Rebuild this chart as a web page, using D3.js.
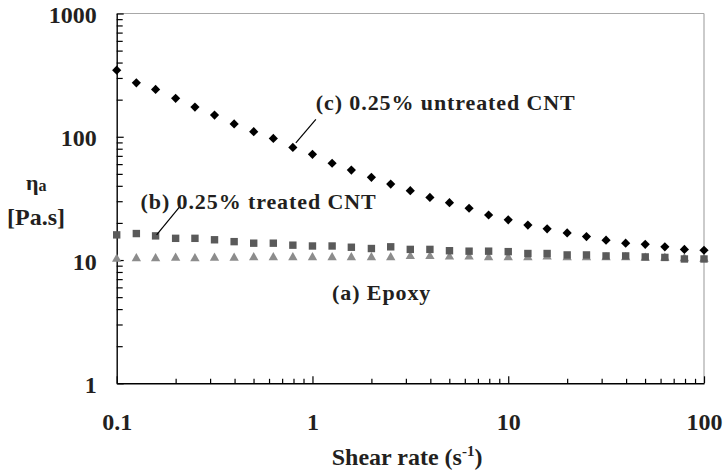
<!DOCTYPE html>
<html>
<head>
<meta charset="utf-8">
<script src="https://cdn.jsdelivr.net/npm/d3@7"></script>
<style>
  body { margin: 0; background: #fff; }
  svg { display: block; }
  text { font-family: "Liberation Serif", "Times New Roman", serif; font-weight: bold; fill: #231f20; }
</style>
</head>
<body>
<div id="viz"></div>
<script>
// shear rate values (s^-1)
var shearRate = [0.1, 0.126, 0.158, 0.2, 0.251, 0.316, 0.398, 0.501, 0.631, 0.794,
                 1, 1.26, 1.58, 2, 2.51, 3.16, 3.98, 5.01, 6.31, 7.94,
                 10, 12.6, 15.8, 20, 25.1, 31.6, 39.8, 50.1, 63.1, 79.4, 100];

// (a) Epoxy
var epoxy = [10.2, 10.3, 10.3, 10.4, 10.3, 10.4, 10.4, 10.5, 10.5, 10.5,
             10.5, 10.5, 10.5, 10.5, 10.5, 10.7, 10.7, 10.6, 10.6, 10.5,
             10.5, 10.5, 10.6, 10.5, 10.5, 10.5, 10.5, 10.4, 10.4, 10.3, 10.2];

// (b) 0.25% treated CNT
var treated = [16.0, 16.4, 15.7, 15.0, 15.0, 14.6, 14.1, 13.7, 13.7, 13.2,
               13.0, 13.0, 12.7, 12.4, 12.8, 12.2, 12.2, 11.9, 11.8, 11.8,
               11.7, 11.3, 11.3, 11.0, 11.0, 10.8, 10.8, 10.6, 10.5, 10.2, 10.2];

// (c) 0.25% untreated CNT
var untreated = [347, 274, 242, 205, 174, 150, 127, 110, 97, 82,
                 72, 61, 53.7, 46.9, 41.3, 36.5, 32.2, 29.2, 26.3, 23.2,
                 21.2, 19.2, 17.9, 16.6, 15.5, 14.5, 13.7, 13.4, 12.8, 12.2, 12.0];

var xTicks = [0.1, 1, 10, 100];
var yTicks = [1, 10, 100, 1000];
var xTickLabels = ["0.1", "1", "10", "100"];
var yTickLabels = ["1", "10", "100", "1000"];

var width = 724,
    height = 473,
    margin = {top: 13.5, right: 20, bottom: 90, left: 116.7};
var w = 704 - margin.left,
    h = 383.3 - margin.top;

var svg = d3.select("#viz").append("svg")
    .attr("width", width)
    .attr("height", height);

var g = svg.append("g")
    .attr("transform", "translate(" + margin.left + "," + margin.top + ")");

var x = d3.scaleLog().domain([0.1, 100]).range([0, w]);
var y = d3.scaleLog().domain([1, 1000]).range([h, 0]);

// frame top + right (light grey)
g.append("line")
    .attr("x1", 0).attr("x2", w).attr("y1", 0).attr("y2", 0)
    .style("stroke", "#a8a8a8").style("stroke-width", 1.2);
g.append("line")
    .attr("x1", w).attr("x2", w).attr("y1", 0).attr("y2", h)
    .style("stroke", "#a8a8a8").style("stroke-width", 1.2);

// minor ticks
var xMinor = x.ticks().filter(function(d) { return xTicks.indexOf(d) < 0; });
var yMinor = y.ticks().filter(function(d) { return yTicks.indexOf(d) < 0; });

g.append("g")
    .attr("transform", "translate(0," + h + ")")
    .call(d3.axisBottom(x).tickValues(xMinor).tickSize(-4.5).tickFormat(""))
    .call(function(a) { a.select(".domain").remove(); });

g.append("g")
    .call(d3.axisLeft(y).tickValues(yMinor).tickSize(-6).tickFormat(""))
    .call(function(a) { a.select(".domain").remove(); });

// major axes
var xAxis = g.append("g")
    .attr("transform", "translate(0," + h + ")")
    .call(d3.axisBottom(x).tickValues(xTicks).tickSizeInner(-7).tickSizeOuter(0)
        .tickPadding(30).tickFormat(function(d, i) { return xTickLabels[i]; }));

var yAxis = g.append("g")
    .call(d3.axisLeft(y).tickValues(yTicks).tickSizeInner(-7).tickSizeOuter(0)
        .tickPadding(20).tickFormat(function(d, i) { return yTickLabels[i]; }));

g.selectAll(".tick line").style("stroke", "#000").style("stroke-width", 1.2);
g.selectAll(".domain").style("stroke", "#000").style("stroke-width", 1.4);
g.selectAll(".tick text")
    .style("font-family", "'Liberation Serif', serif")
    .style("font-weight", "bold")
    .style("font-size", "24px")
    .style("fill", "#231f20");
yAxis.selectAll(".tick text").attr("dy", "0.38em");

// (a) epoxy - triangles
g.append("g").selectAll("path")
    .data(shearRate)
    .enter().append("path")
    .attr("d", d3.symbol().type(d3.symbolTriangle).size(38))
    .attr("transform", function(d, i) { return "translate(" + x(d) + "," + y(epoxy[i]) + ")"; })
    .style("fill", "#8c8c8c");

// (b) treated - squares
g.append("g").selectAll("rect")
    .data(shearRate)
    .enter().append("rect")
    .attr("x", function(d) { return x(d) - 3.7; })
    .attr("y", function(d, i) { return y(treated[i]) - 3.7; })
    .attr("width", 7.4)
    .attr("height", 7.4)
    .style("fill", "#5a5a5a");

// (c) untreated - diamonds
g.append("g").selectAll("path")
    .data(shearRate)
    .enter().append("path")
    .attr("d", "M0,-4.6L4.6,0L0,4.6L-4.6,0Z")
    .attr("transform", function(d, i) { return "translate(" + x(d) + "," + y(untreated[i]) + ")"; })
    .style("fill", "#000");

// annotations
var labelFont = function(t) {
    t.style("font-size", "22px").style("letter-spacing", "0.9px");
};

// (c)
var cx = x(shearRate[9]), cy = y(untreated[9]);
g.append("line")
    .attr("x1", cx + 3).attr("y1", cy - 4.5)
    .attr("x2", cx + 23).attr("y2", cy - 28)
    .style("stroke", "#000").style("stroke-width", 1.2);
g.append("text")
    .attr("x", cx + 23).attr("y", cy - 37)
    .text("(c) 0.25% untreated CNT")
    .call(labelFont);

// (b)
var bx = x(shearRate[2]), by = y(treated[2]);
g.append("line")
    .attr("x1", bx + 1).attr("y1", by - 1)
    .attr("x2", bx + 24).attr("y2", by - 29)
    .style("stroke", "#000").style("stroke-width", 1.2);
g.append("text")
    .attr("x", bx - 15).attr("y", by - 27)
    .text("(b) 0.25% treated CNT")
    .call(labelFont);

// (a)
g.append("text")
    .attr("x", x(1.26)).attr("y", y(4.75))
    .text("(a) Epoxy")
    .call(labelFont);

// axis titles
var xt = svg.append("text")
    .attr("x", 331.7).attr("y", 465)
    .style("font-size", "24px");
xt.append("tspan").text("Shear rate (s");
xt.append("tspan").attr("dy", -9).style("font-size", "15px").text("-1");
xt.append("tspan").attr("dy", 9).text(")");

var yt = svg.append("text")
    .attr("x", 26).attr("y", 190)
    .style("font-size", "22px");
yt.append("tspan").text("η");
yt.append("tspan").attr("dy", 1).style("font-size", "16px").text("a");

svg.append("text")
    .attr("x", 7).attr("y", 225)
    .style("font-size", "24px")
    .text("[Pa.s]");
</script>
</body>
</html>
